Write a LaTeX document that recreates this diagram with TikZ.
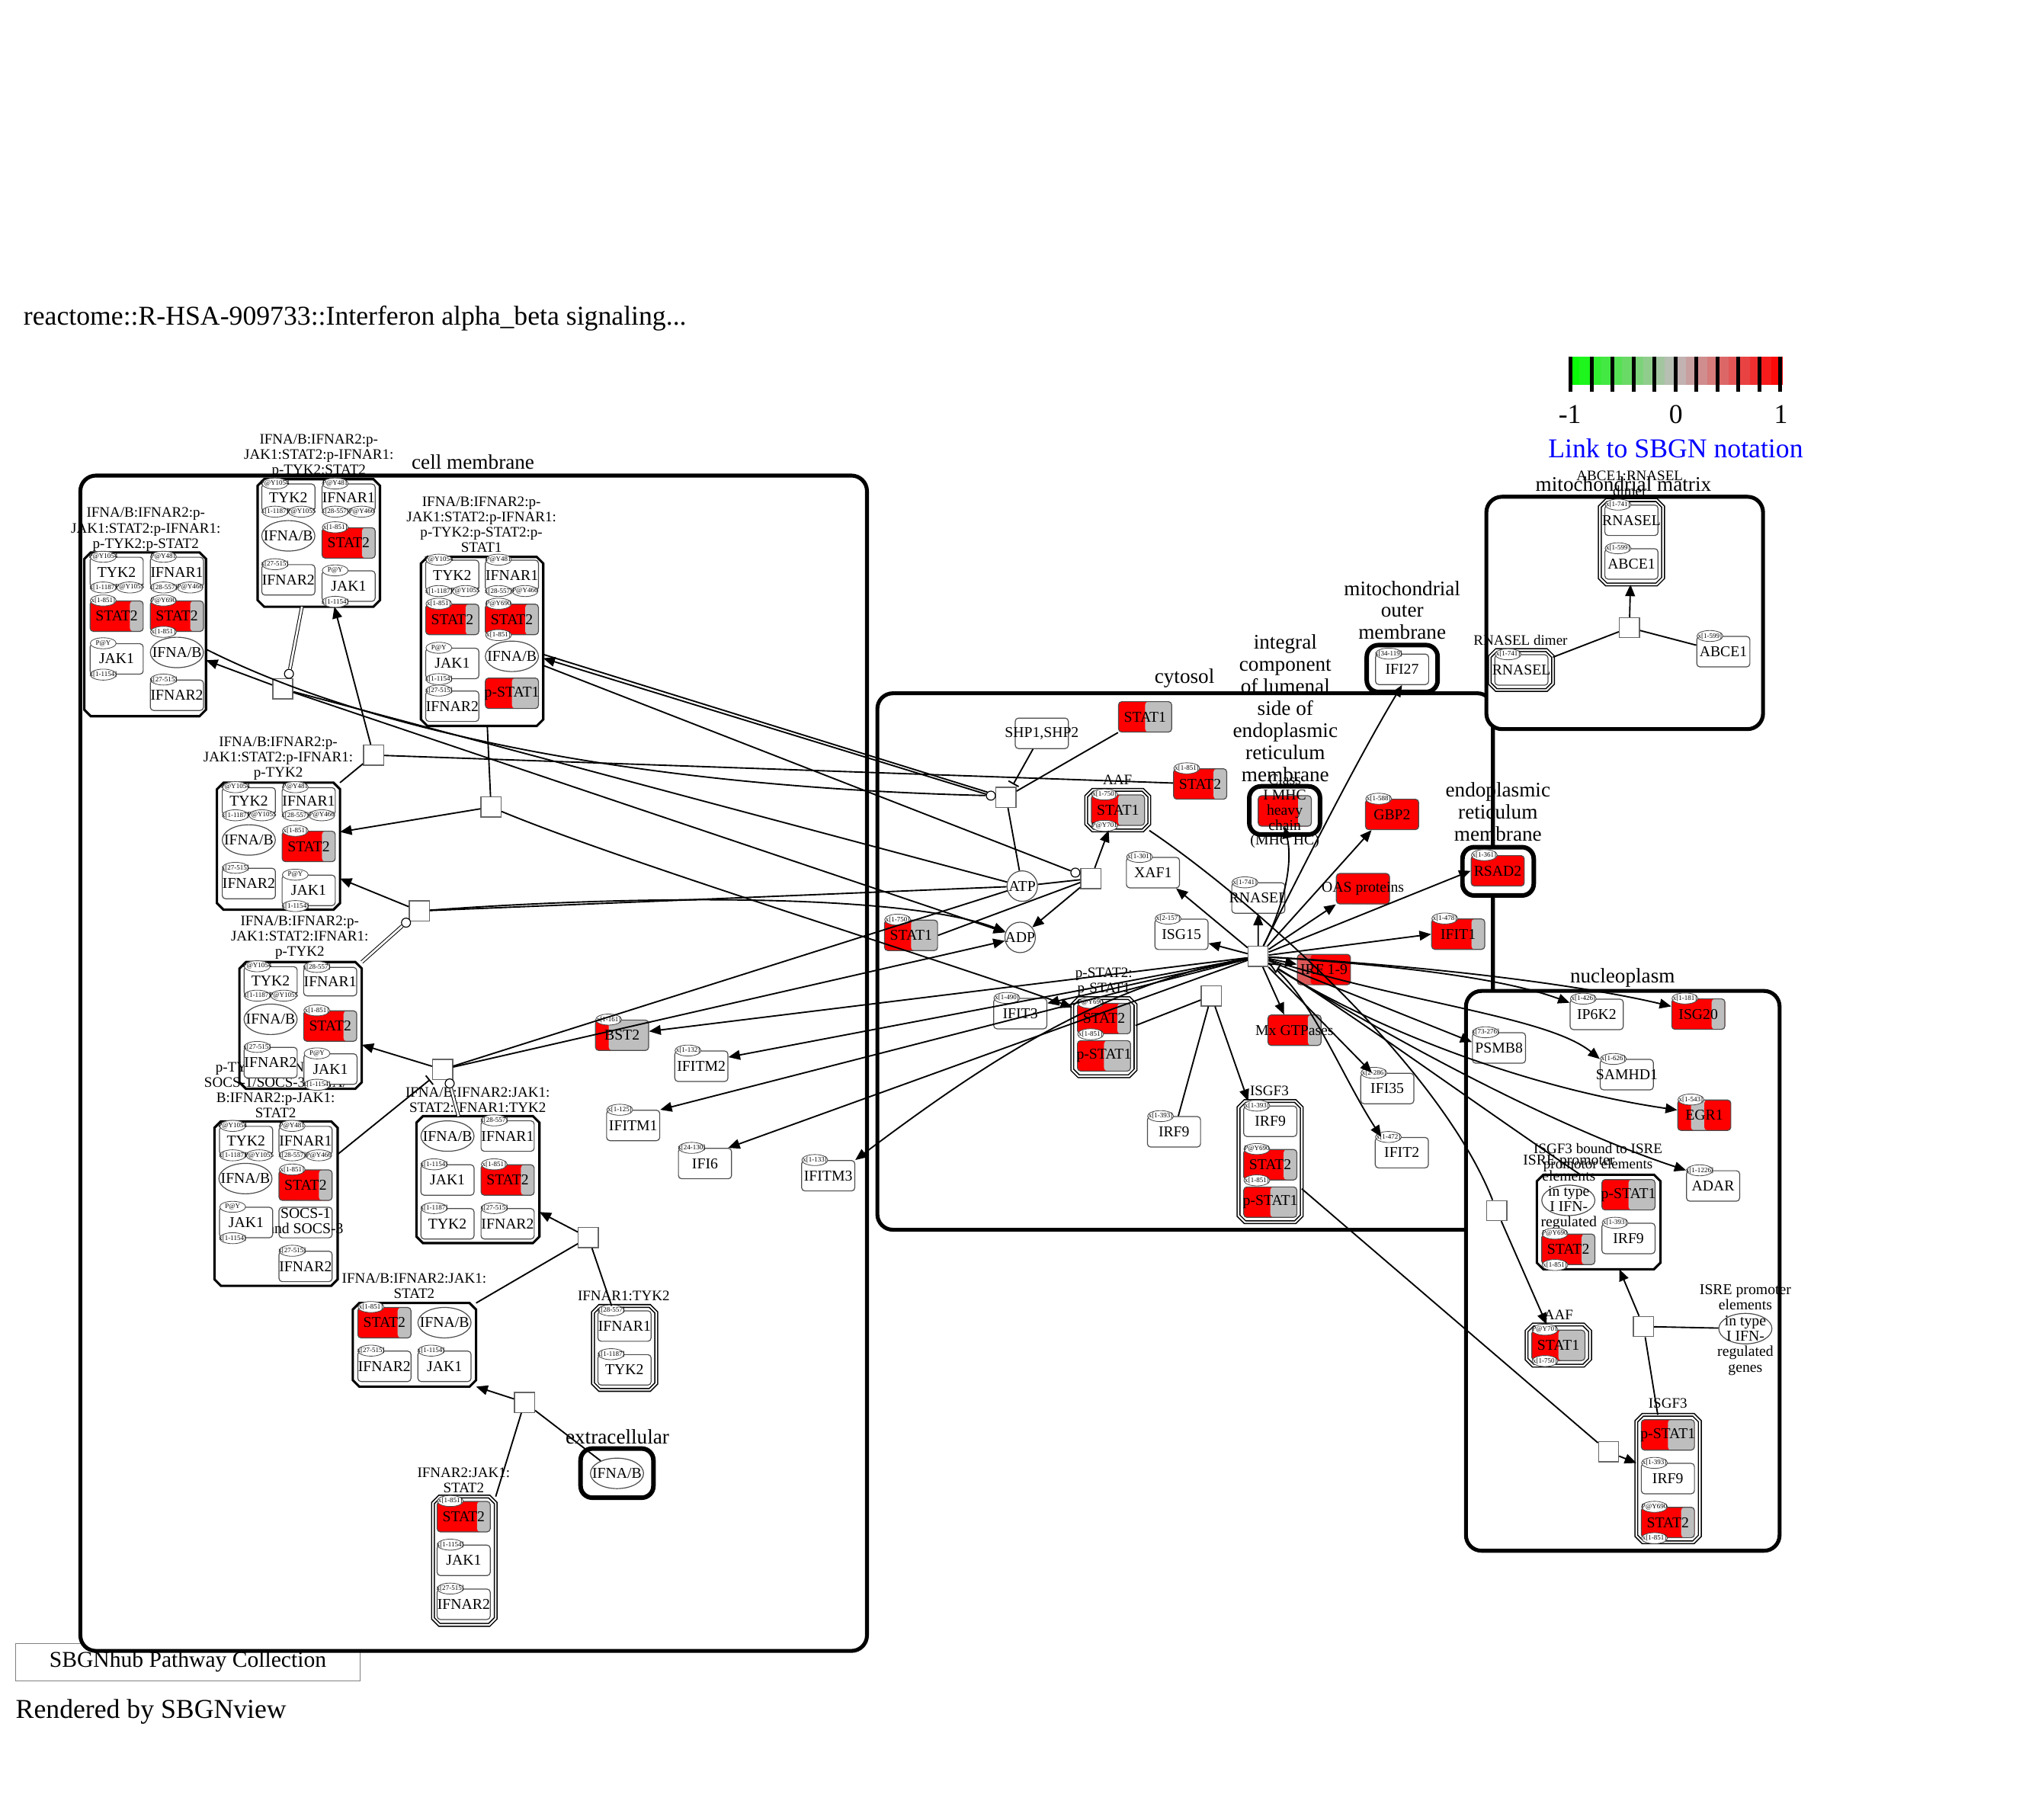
\documentclass[tikz,border=0pt]{standalone}
\usepackage{fontspec}
\setmainfont{Liberation Serif}
\usetikzlibrary{arrows.meta,calc,shapes.geometric}
\definecolor{upred}{RGB}{255,0,0}
\definecolor{nochg}{RGB}{190,190,190}
\definecolor{lowred}{RGB}{222,88,88}
\definecolor{midgrey}{RGB}{192,188,188}
\definecolor{lgreen}{RGB}{0,255,0}
\tikzset{bars/.style n args={4}{path picture={
  \fill[#1] (path picture bounding box.north west) rectangle (path picture bounding box.south east);
  \fill[#2] ($(path picture bounding box.north west)!0.25!(path picture bounding box.north east)$) rectangle (path picture bounding box.south east);
  \fill[#3] ($(path picture bounding box.north west)!0.5!(path picture bounding box.north east)$) rectangle (path picture bounding box.south east);
  \fill[#4] ($(path picture bounding box.north west)!0.75!(path picture bounding box.north east)$) rectangle (path picture bounding box.south east);}}}
\newcommand{\svtl}[2]{\node[sv] (#1-tl) at ([xshift=10.5pt]#1.north west) {#2};}
\newcommand{\svbl}[2]{\node[sv] (#1-bl) at ([xshift=10.5pt]#1.south west) {#2};}
\newcommand{\svbr}[2]{\node[sv] (#1-br) at ([xshift=31pt]#1.south west) {#2};}
\newcommand{\cplx}[5][cplxline]{%
  \node[inner sep=0pt,minimum width=#4,minimum height=#5] (#2) at (#3) {};
  \filldraw[#1] ([xshift=5pt]#2.north west) -- ([xshift=-5pt]#2.north east) -- ([yshift=-5pt]#2.north east) -- ([yshift=5pt]#2.south east) -- ([xshift=-5pt]#2.south east) -- ([xshift=5pt]#2.south west) -- ([yshift=5pt]#2.south west) -- ([yshift=-5pt]#2.north west) -- cycle;}

\begin{document}
\begin{tikzpicture}[x=1pt,y=-1pt,
 comp/.style={draw,line width=3pt,rounded corners=12pt,fill=white,inner sep=0pt},
 smallcomp/.style={comp,line width=3.5pt,rounded corners=9pt},
 clab/.style={font=\fontsize{16}{17}\selectfont,align=center,inner sep=0pt},
 xlab/.style={font=\fontsize{11.2}{11.8}\selectfont,align=center,inner sep=0pt},
 cplxline/.style={draw,line width=1.8pt,fill=white},
 cplxdbl/.style={draw,line width=0.9pt,double,double distance=1.2pt,fill=white},
 zw/.style={execute at begin node={\hbox to 0pt\bgroup\hss},execute at end node={\hss\egroup}},
 mm/.style={draw=black!70,line width=0.7pt,fill=white,rounded corners=2.5pt,minimum width=41pt,minimum height=23.5pt,inner sep=0pt,zw,font=\fontsize{11.6}{11.8}\selectfont},
 ue/.style={mm,ellipse,sharp corners},
 chem/.style={mm,circle,sharp corners,minimum size=23.5pt},
 sv/.style={ellipse,draw=black!70,line width=0.5pt,fill=white,minimum width=20pt,minimum height=8.5pt,inner sep=0pt,zw,font=\fontsize{5.3}{5.5}\selectfont},
 proc/.style={draw=black!60,fill=white,minimum size=15.5pt,inner sep=0pt,line width=0.8pt},
 port/.style={circle,draw,fill=white,minimum size=7pt,inner sep=0pt,line width=0.7pt},
 r4/.style={bars={upred}{upred}{upred}{upred}},
 r3/.style={bars={upred}{upred}{upred}{nochg}},
 r2/.style={bars={upred}{upred}{nochg}{nochg}},
 r1/.style={bars={upred}{nochg}{nochg}{nochg}},
 ln/.style={line width=1.1pt},
 prod/.style={ln,-{Triangle[length=9pt,width=7.5pt]}},
 stim/.style={ln,-{Triangle[open,length=9pt,width=8pt,fill=white]}},
 inh/.style={ln,-{Bar[width=9pt]},shorten >=2pt},
 dbl/.style={double,double distance=1.6pt,line width=0.6pt}]
\useasboundingbox (0,0) rectangle (1568,1404);
\fill[white] (0,0) rectangle (1568,1404);

\node[anchor=west,inner sep=0pt,font=\fontsize{21}{21}\selectfont] (title) at (18,246) {reactome::R-HSA-909733::Interferon alpha\_beta signaling...};
\foreach \i in {0,...,9}{
  \pgfmathtruncatemacro\p{95-10*\i}
  \fill[lgreen!\p!midgrey] (1210.6+8.23*\i,275.4) rectangle (1219.1+8.23*\i,297);
  \pgfmathtruncatemacro\q{5+10*\i}
  \fill[upred!\q!midgrey] (1292.9+8.23*\i,275.4) rectangle (1301.4+8.23*\i,297);
}
\foreach \k in {0,...,10}
  \draw[line width=3pt] (1212.1+16.16*\k,275.4) -- (1212.1+16.16*\k,302.3);
\node[font=\fontsize{21}{21}\selectfont] (lgm) at (1211.4,319.6) {-1};
\node[font=\fontsize{21}{21}\selectfont] (lgz) at (1293.2,319.6) {0};
\node[font=\fontsize{21}{21}\selectfont] (lgp) at (1374.2,319.6) {1};
\node[font=\fontsize{21}{21}\selectfont,text=blue] (link) at (1293,346) {Link to SBGN notation};
\node[draw=black!50,minimum width=266pt,minimum height=29pt,inner sep=0pt,font=\fontsize{17.4}{18}\selectfont] (coll) at (145,1282.5) {SBGNhub Pathway Collection};
\node[anchor=west,inner sep=0pt,font=\fontsize{21}{21}\selectfont] (render) at (12,1321) {Rendered by SBGNview};

\node[comp,minimum width=607pt,minimum height=907pt] (cellmem) at (365.5,820.5) {};
\node[comp,minimum width=475pt,minimum height=414pt] (cytosol) at (914.5,742) {};
\node[comp,minimum width=213.5pt,minimum height=179.3pt] (mitomat) at (1253.7,473) {};
\node[comp,minimum width=242pt,minimum height=432pt] (nucleo) at (1252.2,980.7) {};
\node[smallcomp,minimum width=54.7pt,minimum height=36.2pt] (mitoout) at (1082,515.9) {};
\node[smallcomp,minimum width=54.6pt,minimum height=37.2pt] (lumen) at (991.3,625.4) {};
\node[smallcomp,minimum width=55pt,minimum height=37.3pt] (ermem) at (1156,672.4) {};
\node[smallcomp,minimum width=56.2pt,minimum height=37.9pt] (extra) at (476.1,1136.8) {};
\node[clab] (cellmem-l) at (365,356.8) {cell membrane};
\node[clab] (cytosol-l) at (914,523.5) {cytosol};
\node[clab] (mitomat-l) at (1252.7,373.5) {mitochondrial matrix};
\node[clab] (nucleo-l) at (1252,754.8) {nucleoplasm};
\node[clab] (mitoout-l) at (1082,470.9) {mitochondrial\\outer\\membrane};
\node[clab] (lumen-l) at (991.8,546.5) {integral\\component\\of lumenal\\side of\\endoplasmic\\reticulum\\membrane};
\node[clab] (ermem-l) at (1155.9,626.4) {endoplasmic\\reticulum\\membrane};
\node[clab] (extra-l) at (476.4,1108.6) {extracellular};

\node[xlab] (c1-l) at (112.5,408.6) {IFNA/B:IFNAR2:p-\\JAK1:STAT2:p-IFNAR1:\\p-TYK2:p-STAT2};
\cplx{c1}{112,489.5}{93.5pt}{126pt}
\node[mm,minimum height=23pt] (c1tyk) at (90,441.5) {TYK2};
\svtl{c1tyk}{P@Y1054} \svbl{c1tyk}{x[1-1187]} \svbr{c1tyk}{P@Y1055}
\node[mm,minimum height=23pt] (c1ifr1) at (136.5,441.5) {IFNAR1};
\svtl{c1ifr1}{P@Y481} \svbl{c1ifr1}{x[28-557]} \svbr{c1ifr1}{P@Y466}
\node[mm,r3] (c1st2a) at (90,475.5) {STAT2};
\svtl{c1st2a}{x[1-851]}
\node[mm,r3] (c1st2b) at (136.5,475.5) {STAT2};
\svtl{c1st2b}{P@Y690} \svbl{c1st2b}{x[1-851]}
\node[mm] (c1jak) at (90,508.5) {JAK1};
\svtl{c1jak}{P@Y} \svbl{c1jak}{x[1-1154]}
\node[ue] (c1ifn) at (136.5,503.5) {IFNA/B};
\node[mm] (c1ifr2) at (136.5,536.5) {IFNAR2};
\svtl{c1ifr2}{x[27-515]}

\node[xlab] (c2-l) at (246,352) {IFNA/B:IFNAR2:p-\\JAK1:STAT2:p-IFNAR1:\\p-TYK2:STAT2};
\cplx{c2}{246,419}{94pt}{98pt}
\node[mm,minimum height=21pt] (c2tyk) at (222.5,384) {TYK2};
\svtl{c2tyk}{P@Y1054} \svbl{c2tyk}{x[1-1187]} \svbr{c2tyk}{P@Y1055}
\node[mm,minimum height=21pt] (c2ifr1) at (269,384) {IFNAR1};
\svtl{c2ifr1}{P@Y481} \svbl{c2ifr1}{x[28-557]} \svbr{c2ifr1}{P@Y466}
\node[ue] (c2ifn) at (222.5,413.5) {IFNA/B};
\node[mm,r3] (c2st2) at (269,419) {STAT2};
\svtl{c2st2}{x[1-851]}
\node[mm] (c2ifr2) at (222.5,447.5) {IFNAR2};
\svtl{c2ifr2}{x[27-515]}
\node[mm] (c2jak) at (269,452.3) {JAK1};
\svtl{c2jak}{P@Y} \svbl{c2jak}{x[1-1154]}

\node[xlab] (c3-l) at (371.5,405) {IFNA/B:IFNAR2:p-\\JAK1:STAT2:p-IFNAR1:\\p-TYK2:p-STAT2:p-\\STAT1};
\cplx{c3}{372,495}{94pt}{130pt}
\node[mm] (c3tyk) at (349,444) {TYK2};
\svtl{c3tyk}{P@Y1054} \svbl{c3tyk}{x[1-1187]} \svbr{c3tyk}{P@Y1055}
\node[mm] (c3ifr1) at (395,444) {IFNAR1};
\svtl{c3ifr1}{P@Y481} \svbl{c3ifr1}{x[28-557]} \svbr{c3ifr1}{P@Y466}
\node[mm,r3] (c3st2a) at (349,478) {STAT2};
\svtl{c3st2a}{x[1-851]}
\node[mm,r3] (c3st2b) at (395,478) {STAT2};
\svtl{c3st2b}{P@Y690} \svbl{c3st2b}{x[1-851]}
\node[mm] (c3jak) at (349,512) {JAK1};
\svtl{c3jak}{P@Y} \svbl{c3jak}{x[1-1154]}
\node[ue] (c3ifn) at (395,506.5) {IFNA/B};
\node[mm,r2] (c3pst1) at (395,535) {p-STAT1};
\node[mm] (c3ifr2) at (349,545) {IFNAR2};
\svtl{c3ifr2}{x[27-515]}

\node[xlab] (c4-l) at (214.7,585.2) {IFNA/B:IFNAR2:p-\\JAK1:STAT2:p-IFNAR1:\\p-TYK2};
\cplx{c4}{214.9,653}{94.5pt}{97.6pt}
\node[mm,minimum height=21pt] (c4tyk) at (192,618.3) {TYK2};
\svtl{c4tyk}{P@Y1054} \svbl{c4tyk}{x[1-1187]} \svbr{c4tyk}{P@Y1055}
\node[mm,minimum height=21pt] (c4ifr1) at (238.2,618.3) {IFNAR1};
\svtl{c4ifr1}{P@Y481} \svbl{c4ifr1}{x[28-557]} \svbr{c4ifr1}{P@Y466}
\node[ue] (c4ifn) at (192,648.2) {IFNA/B};
\node[mm,r3] (c4st2) at (238.2,653.2) {STAT2};
\svtl{c4st2}{x[1-851]}
\node[mm] (c4ifr2) at (192,681.8) {IFNAR2};
\svtl{c4ifr2}{x[27-515]}
\node[mm] (c4jak) at (238.2,687.1) {JAK1};
\svtl{c4jak}{P@Y} \svbl{c4jak}{x[1-1154]}

\node[xlab] (c5-l) at (231.3,723.8) {IFNA/B:IFNAR2:p-\\JAK1:STAT2:IFNAR1:\\p-TYK2};
\cplx{c5}{232,791.3}{94pt}{97.4pt}
\node[xlab] (c6-l) at (212.7,841) {p-TYK2:p-IFNAR1:\\SOCS-1/SOCS-3:IFNA/\\B:IFNAR2:p-JAK1:\\STAT2};
\node[mm,minimum height=22pt] (c5tyk) at (208.8,757) {TYK2};
\svtl{c5tyk}{P@Y1054} \svbl{c5tyk}{x[1-1187]} \svbr{c5tyk}{P@Y1055}
\node[mm,minimum height=22pt] (c5ifr1) at (254.8,757.5) {IFNAR1};
\svtl{c5ifr1}{x[28-557]}
\node[ue] (c5ifn) at (208.8,786.6) {IFNA/B};
\node[mm,r3] (c5st2) at (254.8,791.8) {STAT2};
\svtl{c5st2}{x[1-851]}
\node[mm] (c5ifr2) at (208.8,820) {IFNAR2};
\svtl{c5ifr2}{x[27-515]}
\node[mm] (c5jak) at (255,825) {JAK1};
\svtl{c5jak}{P@Y} \svbl{c5jak}{x[1-1154]}

\cplx{c6}{213,928.8}{94.7pt}{126.5pt}
\node[mm,minimum height=22pt] (c6tyk) at (189.9,880.2) {TYK2};
\svtl{c6tyk}{P@Y1054} \svbl{c6tyk}{x[1-1187]} \svbr{c6tyk}{P@Y1055}
\node[mm,minimum height=22pt] (c6ifr1) at (235.8,880.2) {IFNAR1};
\svtl{c6ifr1}{P@Y481} \svbl{c6ifr1}{x[28-557]} \svbr{c6ifr1}{P@Y466}
\node[ue] (c6ifn) at (189.4,909.5) {IFNA/B};
\node[mm,r3] (c6st2) at (235.8,914.6) {STAT2};
\svtl{c6st2}{x[1-851]}
\node[mm] (c6socs) at (235.8,943.4) {\begin{tabular}{@{}c@{}}SOCS-1\\and SOCS-3\end{tabular}};
\node[mm] (c6jak) at (189.9,943.4) {JAK1};
\svtl{c6jak}{P@Y} \svbl{c6jak}{x[1-1154]}
\node[mm] (c6ifr2) at (235.8,977.3) {IFNAR2};
\svtl{c6ifr2}{x[27-515]}

\node[xlab] (c7-l) at (368.6,848.7) {IFNA/B:IFNAR2:JAK1:\\STAT2:IFNAR1:TYK2};
\cplx{c7}{368.8,910.3}{94.5pt}{97.5pt}
\node[ue] (c7ifn) at (345.3,876.7) {IFNA/B};
\node[mm] (c7ifr1) at (391.7,876.7) {IFNAR1};
\svtl{c7ifr1}{x[28-557]}
\node[mm] (c7jak) at (345.3,910.6) {JAK1};
\svtl{c7jak}{x[1-1154]}
\node[mm,r3] (c7st2) at (391.7,910.6) {STAT2};
\svtl{c7st2}{x[1-851]}
\node[mm] (c7tyk) at (345.3,944.4) {TYK2};
\svtl{c7tyk}{x[1-1187]}
\node[mm] (c7ifr2) at (391.7,944.4) {IFNAR2};
\svtl{c7ifr2}{x[27-515]}

\node[xlab] (c8-l) at (319.6,992.5) {IFNA/B:IFNAR2:JAK1:\\STAT2};
\cplx{c8}{319.8,1037.8}{94.7pt}{64.1pt}
\node[mm,r3] (c8st2) at (296.6,1020.7) {STAT2};
\svtl{c8st2}{x[1-851]}
\node[ue] (c8ifn) at (343,1020.7) {IFNA/B};
\node[mm] (c8ifr2) at (296.6,1054.4) {IFNAR2};
\svtl{c8ifr2}{x[27-515]}
\node[mm] (c8jak) at (343,1054.4) {JAK1};
\svtl{c8jak}{x[1-1154]}

\node[xlab] (c9-l) at (481.3,999.8) {IFNAR1:TYK2};
\cplx[cplxdbl]{c9}{482,1040.2}{48.4pt}{64.4pt}
\node[mm] (c9ifr1) at (481.9,1023.3) {IFNAR1};
\svtl{c9ifr1}{x[28-557]}
\node[mm] (c9tyk) at (481.9,1057.1) {TYK2};
\svtl{c9tyk}{x[1-1187]}

\node[ue] (ifnx) at (476.1,1137) {IFNA/B};

\node[xlab] (c10-l) at (357.8,1142.6) {IFNAR2:JAK1:\\STAT2};
\cplx[cplxdbl]{c10}{358.3,1204.4}{48pt}{98.6pt}
\node[mm,r3] (c10st2) at (357.8,1170.4) {STAT2};
\svtl{c10st2}{x[1-851]}
\node[mm] (c10jak) at (357.8,1204.1) {JAK1};
\svtl{c10jak}{x[1-1154]}
\node[mm] (c10ifr2) at (357.8,1238) {IFNAR2};
\svtl{c10ifr2}{x[27-515]}

\node[mm,r1] (bst2) at (480,798.9) {BST2};
\svtl{bst2}{x[1-161]}
\node[mm] (ifitm2) at (541.2,822.8) {IFITM2};
\svtl{ifitm2}{x[1-132]}
\node[mm] (ifitm1) at (488.6,868.5) {IFITM1};
\svtl{ifitm1}{x[1-125]}
\node[mm] (ifi6) at (544,897.9) {IFI6};
\svtl{ifi6}{x[24-130]}
\node[mm] (ifitm3) at (639.1,907.3) {IFITM3};
\svtl{ifitm3}{x[1-133]}

\node[proc] (p1) at (218.2,531.6) {};
\node[port] (p1c) at (223,520) {};
\node[proc] (pe) at (288.2,582.7) {};
\node[proc] (pf) at (378.9,622.8) {};
\node[proc] (pd) at (323.5,703) {};
\node[port] (pdc) at (313.3,712) {};
\node[proc] (pc) at (341.5,825.3) {};
\node[port] (pcc) at (347,836.1) {};
\node[proc] (pb) at (454,955) {};
\node[proc] (pa) at (404.8,1082.2) {};

\node[mm] (shp) at (803.9,565.9) {SHP1,SHP2};
\node[mm,r2] (cs1) at (883.6,553.2) {STAT1};
\node[mm,r3] (cs2) at (926.1,605) {STAT2};
\svtl{cs2}{x[1-851]}
\node[xlab] (aaf-l) at (862.3,601.8) {AAF};
\cplx[cplxdbl]{aaf}{862.5,625.2}{48.3pt}{30.9pt}
\node[mm,r2] (aafs1) at (862.7,625.2) {STAT1};
\svtl{aafs1}{x[1-750]} \svbl{aafs1}{P@Y701}
\node[mm,r3] (mhc) at (991.4,625.8) {};
\node[xlab,font=\fontsize{11.6}{11.7}\selectfont] (mhc-l) at (991.4,626) {Class\\I MHC\\heavy\\chain\\(MHC HC)};
\node[mm] (ifi27) at (1081.9,516.5) {IFI27};
\svtl{ifi27}{x[34-119]}
\node[mm] (xaf) at (889.7,673.4) {XAF1};
\svtl{xaf}{x[1-301]}
\node[mm] (cr) at (971,693) {RNASEL};
\svtl{cr}{x[1-741]}
\node[mm,r4] (gbp2) at (1074.2,628.5) {GBP2};
\svtl{gbp2}{x[1-588]}
\node[mm,r4] (oas) at (1051.7,685.8) {OAS proteins};
\node[mm,r4] (rsad) at (1155.7,672) {RSAD2};
\svtl{rsad}{x[1-361]}
\node[mm] (isg) at (911.7,721) {ISG15};
\svtl{isg}{x[2-157]}
\node[mm,bars={lowred}{upred}{upred}{upred}] (irf) at (1021.6,748.2) {IRF 1-9};
\node[mm,r3] (ifit1) at (1125.2,720.9) {IFIT1};
\svtl{ifit1}{x[1-478]}
\node[chem] (atp) at (788.8,683.8) {ATP};
\node[chem] (adp) at (787.2,723.4) {ADP};
\node[mm,r2] (ls1) at (703,721.8) {STAT1};
\svtl{ls1}{x[1-750]}
\node[proc] (pg) at (776.3,615.2) {};
\node[port] (pgc) at (764.6,614) {};
\node[proc] (ph) at (841.7,678) {};
\node[port] (phc) at (829.8,673.4) {};
\node[proc] (pm) at (970.8,738.1) {};
\node[mm] (ifit3) at (787.3,782.2) {IFIT3};
\svtl{ifit3}{x[1-490]}
\node[xlab] (pst-l) at (851.8,757.7) {p-STAT2:\\p-STAT1};
\cplx[cplxdbl]{pst}{851.8,800.4}{48.4pt}{59.9pt}
\node[mm,r3] (psts2) at (851.9,786) {STAT2};
\svtl{psts2}{P@Y690} \svbl{psts2}{x[1-851]}
\node[mm,r2] (psts1) at (851.9,814.8) {p-STAT1};
\node[proc] (pisgf) at (934.7,768.5) {};
\node[mm] (irf9c) at (905.9,873.4) {IRF9};
\svtl{irf9c}{x[1-393]}
\node[xlab] (isgf3c-l) at (979.5,842) {ISGF3};
\cplx[cplxdbl]{isgf3c}{980.1,896.4}{48.4pt}{93.1pt}
\node[mm] (isgc9) at (980.2,865.3) {IRF9};
\svtl{isgc9}{x[1-393]}
\node[mm,r3] (isgcs2) at (980.2,898.8) {STAT2};
\svtl{isgcs2}{P@Y690} \svbl{isgcs2}{x[1-851]}
\node[mm,r2] (isgcs1) at (980.2,927.7) {p-STAT1};
\node[mm,r3] (mx) at (998.9,795) {Mx GTPases};
\node[mm] (ifi35) at (1070.5,840) {IFI35};
\svtl{ifi35}{x[2-286]}
\node[mm] (ifit2) at (1081.7,889.5) {IFIT2};
\svtl{ifit2}{x[1-472]}

\node[xlab] (abr-l) at (1257.6,373) {ABCE1:RNASEL\\dimer};
\cplx[cplxdbl]{abr}{1258.9,418.5}{48.4pt}{64.7pt}
\node[mm] (abrr) at (1258.9,401.5) {RNASEL};
\svtl{abrr}{x[1-741]}
\node[mm] (abra) at (1258.9,435.2) {ABCE1};
\svtl{abra}{x[1-599]}
\node[proc] (pmm) at (1257.3,484.4) {};
\node[xlab] (rdim-l) at (1173.3,494) {RNASEL dimer};
\cplx[cplxdbl]{rdim}{1174,517.1}{48.4pt}{30.4pt}
\node[mm] (rdimr) at (1174,517) {RNASEL};
\svtl{rdimr}{x[1-741]}
\node[mm] (abce1) at (1329.8,502.9) {ABCE1};
\svtl{abce1}{x[1-599]}

\node[mm] (ip6k2) at (1232.1,782.8) {IP6K2};
\svtl{ip6k2}{x[1-426]}
\node[mm,r3] (isg20) at (1310.5,782.6) {ISG20};
\svtl{isg20}{x[1-181]}
\node[mm] (psmb8) at (1156.7,808.7) {PSMB8};
\svtl{psmb8}{x[73-276]}
\node[mm] (samhd1) at (1255.3,829.3) {SAMHD1};
\svtl{samhd1}{x[1-626]}
\node[mm,bars={upred}{nochg}{upred}{upred}] (egr1) at (1315.1,860.6) {EGR1};
\svtl{egr1}{x[1-543]}
\node[mm] (adar) at (1321.9,915.2) {ADAR};
\svtl{adar}{x[1-1226]}
\cplx{isrec}{1233.6,943}{95pt}{72.5pt}
\node[xlab] (isrec-l) at (1233.1,893.5) {ISGF3 bound to ISRE\\promotor elements};
\node[ue] (isrece) at (1210.2,926.3) {};
\node[xlab,font=\fontsize{11.6}{11.9}\selectfont] (isrece-l) at (1210.6,926.3) {ISRE promoter\\elements\\in type\\I IFN-\\regulated\\genes};
\node[mm,r2] (isrecs1) at (1256.6,922) {p-STAT1};
\node[mm] (isrec9) at (1256.6,955.7) {IRF9};
\svtl{isrec9}{x[1-393]}
\node[mm,r3] (isrecs2) at (1210.2,964.1) {STAT2};
\svtl{isrecs2}{P@Y690} \svbl{isrecs2}{x[1-851]}
\node[proc] (pn1) at (1154.9,934.2) {};
\node[xlab] (aafn-l) at (1202.7,1014.5) {AAF};
\cplx[cplxdbl]{aafn}{1202.5,1038}{48.6pt}{31.3pt}
\node[mm,r2] (aafns1) at (1202.5,1038.2) {STAT1};
\svtl{aafns1}{P@Y701} \svbl{aafns1}{x[1-750]}
\node[proc] (pn2) at (1268.2,1023.7) {};
\node[ue] (isre) at (1346.8,1025.3) {};
\node[xlab,font=\fontsize{11.6}{12}\selectfont] (isre-l) at (1346.8,1026.3) {ISRE promoter\\elements\\in type\\I IFN-\\regulated\\genes};
\node[xlab] (isgf3n-l) at (1287,1083.2) {ISGF3};
\cplx[cplxdbl]{isgf3n}{1287.2,1141}{48.6pt}{98pt}
\node[mm,r2] (isgns1) at (1287,1107.3) {p-STAT1};
\node[mm] (isgn9) at (1287,1141) {IRF9};
\svtl{isgn9}{x[1-393]}
\node[mm,r3] (isgns2) at (1287,1174.9) {STAT2};
\svtl{isgns2}{P@Y690} \svbl{isgns2}{x[1-851]}
\node[proc] (pn3) at (1241.2,1120.4) {};

\draw[dbl] ([xshift=-13pt]c2.south) -- (p1c);
\draw[prod] (p1) -- ([yshift=-20pt]c1.east);
\draw[ln] ([yshift=-11.5pt]c1.east) .. controls (300,572) and (520,608) .. (pgc);
\draw[ln] (p1) -- (atp);
\draw[prod] (p1) -- (adp);
\draw[prod] (pe) -- ([xshift=12pt]c2.south);
\draw[ln] (c4.north east) -- (pe);
\draw[ln] (pe) -- (cs2);
\draw[ln] ([xshift=4pt]c3.south) -- (pf);
\draw[prod] (pf) -- ([yshift=11pt]c4.east);
\draw[prod] (pf) .. controls (480,665) and (740,745) .. ([yshift=23pt]pst.west);
\draw[prod] (pgc) -- ([yshift=-13pt]c3.east);
\draw[ln] (pgc.north west) -- ([yshift=-10pt]c3.east);
\draw[ln] ([yshift=-18.5pt]c3.east) -- (phc);
\draw[inh] (shp) -- (pg);
\draw[ln] (cs1.south west) -- (pg);
\draw[ln] (pg) -- (atp);
\draw[prod] (ph) -- ([xshift=-7pt]aaf.south);
\draw[ln] (ph) -- (atp);
\draw[prod] (ph) -- (adp);
\draw[ln] (ls1.east) -- (ph);
\draw[dbl] (c5.north east) -- (pdc);
\draw[prod] (pd) -- ([yshift=-25pt]c4.east);
\draw[ln] (pd) -- (atp);
\draw[prod] (pd) .. controls (500,690) and (700,690) .. (adp);
\draw[prod] (pc) -- ([yshift=-15pt]c5.east);
\draw[inh] ([yshift=38pt]c6.east) -- (pc);
\draw[dbl] ([xshift=-15pt]c7.north) -- (pcc);
\draw[ln] (pc) -- (atp);
\draw[prod] (pc) -- (adp);
\draw[prod] (pb) -- ([yshift=-25pt]c7.east);
\draw[ln] (c8.north east) -- (pb);
\draw[ln] ([xshift=-10pt]c9.north) -- (pb);
\draw[prod] (pa) -- (c8.south east);
\draw[ln] (c10.north east) -- (pa);
\draw[ln] (pa) -- (ifnx);

\draw[prod] (pm) -- ([xshift=-3pt]xaf.south east);
\draw[prod] (pm) -- (cr);
\draw[prod] (pm) -- ([yshift=-7pt]isg.east);
\draw[prod] (pm) .. controls (990,700) and (998,668) .. (mhc.south);
\draw[prod] (pm) .. controls (1000,680) and (1045,590) .. (ifi27.south);
\draw[prod] (pm) -- ([xshift=5pt]gbp2.south west);
\draw[prod] (pm) -- (oas.south west);
\draw[prod] (pm) -- (rsad.west);
\draw[prod] (pm) -- (ifit1.west);
\draw[prod] (pm) -- ([yshift=4pt]irf.west);
\draw[prod] (pm) -- ([xshift=-8pt]mx.north);
\draw[prod] (pm) -- ([xshift=9pt]ifi35.north west);
\draw[prod] (pm) .. controls (1010,765) and (1035,830) .. ([xshift=5pt]ifit2.north west);
\draw[prod] (pm) .. controls (1080,745) and (1160,755) .. ([yshift=9pt]ip6k2.west);
\draw[prod] (pm) .. controls (1100,745) and (1220,760) .. ([yshift=6pt]isg20.west);
\draw[prod] (pm) -- ([yshift=4.5pt]psmb8.west);
\draw[prod] (pm) .. controls (1090,775) and (1195,785) .. (samhd1.north west);
\draw[prod] (pm) .. controls (1060,795) and (1180,840) .. ([yshift=4pt]egr1.west);
\draw[prod] (pm) .. controls (1070,800) and (1200,870) .. (adar.north west);
\draw[stim] ([xshift=-14pt]isrec.north) .. controls (1150,860) and (1040,780) .. (pm);
\draw[prod] (pm) -- ([yshift=8pt]ifit3.east);
\draw[prod] (pm) -- ([yshift=3pt]bst2.east);
\draw[prod] (pm) -- ([yshift=7pt]ifitm2.east);
\draw[prod] (pm) -- (ifitm1.north east);
\draw[prod] (pm) -- ([xshift=-3pt]ifi6.north east);
\draw[prod] (pm) .. controls (850,760) and (760,820) .. (ifitm3.north east);
\draw[ln] (aaf.south east) .. controls (960,690) and (1110,820) .. (pn1);
\draw[prod] (pn1) -- ([xshift=-9pt]aafn.north);
\draw[ln] ([yshift=9pt]pst.east) -- (pisgf);
\draw[ln] (irf9c) -- (pisgf);
\draw[prod] (pisgf) -- ([xshift=-17pt]isgf3c.north);
\draw[ln] ([yshift=-21pt]isgf3c.east) -- (pn3);
\draw[prod] (pn3) -- ([yshift=12pt]isgf3n.west);
\draw[ln] ([xshift=-8pt]isgf3n.north) -- (pn2);
\draw[ln] (isre) -- (pn2);
\draw[prod] (pn2) -- ([xshift=16pt]isrec.south);
\draw[prod] (pmm) -- (abr);
\draw[ln] ([yshift=10pt]rdim.east) -- (pmm);
\draw[ln] ([yshift=5pt]abce1.west) -- (pmm);
\end{tikzpicture}
\end{document}
